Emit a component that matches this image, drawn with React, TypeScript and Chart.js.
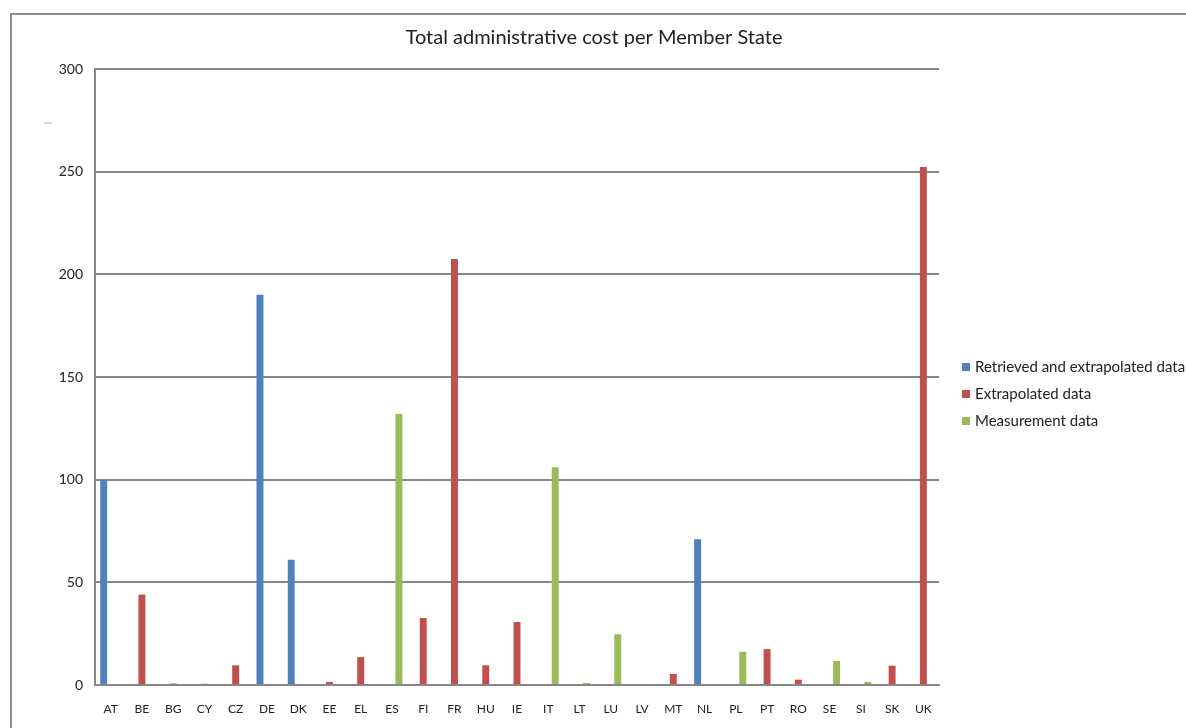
import React, { useEffect, useRef } from "react";
import { Chart, registerables } from "chart.js";

Chart.register(...registerables);

const countries = [
  "AT", "BE", "BG", "CY", "CZ", "DE", "DK", "EE", "EL", "ES", "FI", "FR", "HU", "IE",
  "IT", "LT", "LU", "LV", "MT", "NL", "PL", "PT", "RO", "SE", "SI", "SK", "UK",
];

// Cost per Member State, split by data source (null = not in that group)
const retrievedExtrapolated = [
  100, null, null, null, null, 190, 61, null, null, null, null, null, null, null,
  null, null, null, null, null, 71, null, null, null, null, null, null, null,
];
const extrapolated = [
  null, 44, 0.7, 0.6, 9.6, null, null, 1.5, 13.6, null, 32.6, 207.5, 9.6, 30.7,
  null, null, null, null, 5.4, null, null, 17.5, 2.6, null, null, 9.4, 252.3,
];
const measurement = [
  null, null, null, null, null, null, null, null, null, 132, null, null, null, null,
  106, 1, 24.7, null, null, null, 16.2, null, null, 11.7, 1.5, null, null,
];

const seriesLabels = ["Retrieved and extrapolated data", "Extrapolated data", "Measurement data"];
const seriesColors = ["#4F81BD", "#C0504D", "#9BBB59"];

const yTicks = [0, 50, 100, 150, 200, 250, 300];

const chartTitle = "Total administrative cost per Member State";

const FONT = "Lato, 'Open Sans', sans-serif";
const TEXT = "#222222";
const LINE = "#878787";

// Outer frame, page background and the title, drawn centred on the whole canvas
const framePlugin = {
  id: "frame",
  beforeDraw(chart: any) {
    const ctx = chart.ctx;
    ctx.save();
    ctx.fillStyle = "#ffffff";
    ctx.fillRect(0, 0, chart.width, chart.height);
    ctx.strokeStyle = "#8c8c8c";
    ctx.lineWidth = 2;
    ctx.strokeRect(11, 14, chart.width + 100, chart.height + 100);
    ctx.fillStyle = "#aaaaaa";
    ctx.fillRect(44, 122.5, 8, 1);
    ctx.fillStyle = TEXT;
    ctx.font = `20px ${FONT}`;
    ctx.textAlign = "center";
    ctx.textBaseline = "alphabetic";
    ctx.fillText(chartTitle, 594, 43.5);
    ctx.restore();
  },
};

// Legend to the right of the plot
const sideLegendPlugin = {
  id: "sideLegend",
  afterDraw(chart: any) {
    const ctx = chart.ctx;
    ctx.save();
    ctx.font = `15px ${FONT}`;
    ctx.textBaseline = "middle";
    ctx.textAlign = "left";
    chart.data.datasets.forEach((ds: any, i: number) => {
      const y = 367 + i * 27;
      ctx.fillStyle = ds.backgroundColor;
      ctx.fillRect(962, y - 4, 8, 8);
      ctx.fillStyle = TEXT;
      ctx.fillText(ds.label, 975, y + 0.5);
    });
    ctx.restore();
  },
};

export default function App() {
  const canvasRef = useRef<HTMLCanvasElement | null>(null);

  useEffect(() => {
    if (!canvasRef.current) return;
    const seriesData = [retrievedExtrapolated, extrapolated, measurement];
    const chart = new Chart(canvasRef.current, {
      type: "bar",
      data: {
        labels: countries,
        datasets: seriesLabels.map((label, i) => ({
          label,
          data: seriesData[i],
          backgroundColor: seriesColors[i],
          borderWidth: 0,
          categoryPercentage: 0.667,
          barPercentage: 1,
        })),
      },
      options: {
        responsive: false,
        animation: false,
        devicePixelRatio: 1,
        layout: { padding: { left: 10, right: 247, top: 69, bottom: 10 } },
        plugins: {
          legend: { display: false },
          tooltip: { enabled: false },
          title: { display: false },
        },
        scales: {
          x: {
            grid: { display: false, drawTicks: false },
            border: { display: true, color: LINE, width: 2 },
            ticks: {
              color: TEXT,
              font: { family: FONT, size: 12 },
              padding: 17,
              maxRotation: 0,
              autoSkip: false,
            },
            afterFit: (s: any) => {
              s.height = 33;
            },
          },
          y: {
            min: 0,
            max: 300,
            afterBuildTicks: (s: any) => {
              s.ticks = yTicks.map((v) => ({ value: v }));
            },
            grid: { color: LINE, lineWidth: 2, drawTicks: false },
            border: { display: true, color: LINE, width: 2 },
            ticks: {
              color: TEXT,
              font: { family: FONT, size: 14 },
              padding: 12,
            },
            afterFit: (s: any) => {
              s.width = 85;
            },
          },
        },
      },
      plugins: [framePlugin, sideLegendPlugin],
    });
    return () => chart.destroy();
  }, []);

  return (
    <div
      style={{
        position: "fixed",
        left: 0,
        top: 0,
        width: 1186,
        height: 728,
        overflow: "hidden",
        background: "#ffffff",
      }}
    >
      <canvas ref={canvasRef} width={1186} height={728} style={{ display: "block" }} />
    </div>
  );
}
